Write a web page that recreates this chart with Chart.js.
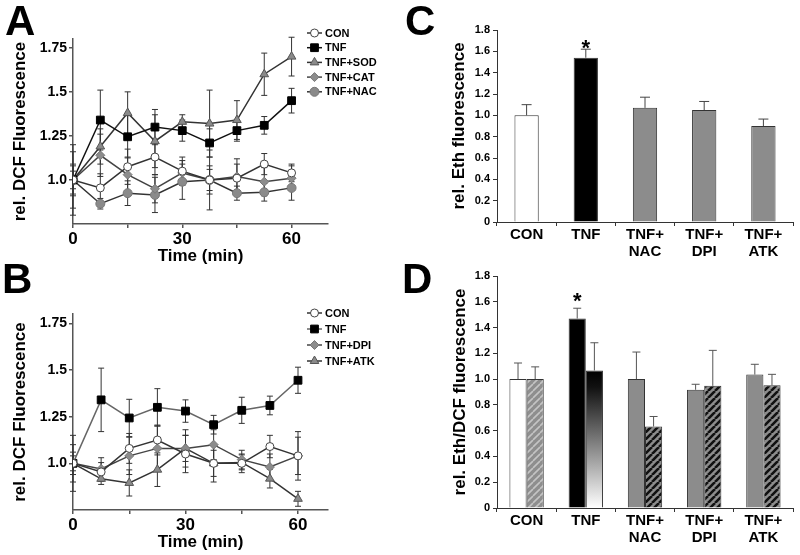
<!DOCTYPE html>
<html>
<head>
<meta charset="utf-8">
<script src="https://cdn.jsdelivr.net/npm/chart.js@4.4.1/dist/chart.umd.min.js"></script>
<style>
  html, body { margin: 0; padding: 0; background: #fff; }
  #fig { position: relative; width: 800px; height: 555px; overflow: hidden; font-family: Arial, 'Liberation Sans', sans-serif; }
  .panel { position: absolute; }
  .panel canvas { display: block; }
  .letter { position: absolute; font-weight: bold; font-size: 42px; line-height: 42px; color: #000; }
</style>
</head>
<body>
<div id="fig">
  <div class="panel" style="left:0;top:0"><canvas id="chartA" width="400" height="275"></canvas></div>
  <div class="panel" style="left:0;top:275px"><canvas id="chartB" width="400" height="280"></canvas></div>
  <div class="panel" style="left:400px;top:0"><canvas id="chartC" width="400" height="275"></canvas></div>
  <div class="panel" style="left:400px;top:265px"><canvas id="chartD" width="400" height="290"></canvas></div>
  <div class="letter" style="left:5px;top:0">A</div>
  <div class="letter" style="left:2px;top:258px">B</div>
  <div class="letter" style="left:405px;top:0">C</div>
  <div class="letter" style="left:402px;top:258px">D</div>
</div>
<script>
const F = "Arial, 'Liberation Sans', sans-serif";
Chart.defaults.font.family = F;
Chart.defaults.color = '#000';
Chart.defaults.animation = false;

// --- Datos: tiempos (min) ---
const times = [0, 7.5, 15, 22.5, 30, 37.5, 45, 52.5, 60];

// Panel A
const aCon = [1.0, 0.955, 1.075, 1.13, 1.05, 1.0, 1.01, 1.09, 1.04];
const aConErr = [0.05, 0.08, 0.1, 0.1, 0.08, 0.06, 0.08, 0.06, 0.05];
const aTnf = [1.0, 1.34, 1.245, 1.30, 1.28, 1.21, 1.28, 1.31, 1.45];
const aTnfErr = [0.09, 0.17, 0.12, 0.10, 0.06, 0.08, 0.06, 0.05, 0.07];
const aSod = [1.0, 1.19, 1.38, 1.22, 1.33, 1.32, 1.34, 1.60, 1.70];
const aSodErr = [0.16, 0.1, 0.12, 0.15, 0.04, 0.19, 0.11, 0.12, 0.11];
const aCat = [1.0, 1.14, 1.03, 0.95, 1.04, 1.0, 1.02, 0.99, 1.01];
const aCatErr = [0.08, 0.12, 0.1, 0.08, 0.07, 0.08, 0.1, 0.08, 0.07];
const aNac = [1.0, 0.865, 0.925, 0.915, 0.99, 1.0, 0.925, 0.93, 0.955];
const aNacErr = [0.2, 0.03, 0.07, 0.1, 0.1, 0.17, 0.04, 0.05, 0.07];

// Panel B
const bCon = [1.0, 0.954, 1.08, 1.125, 1.05, 1.0, 1.0, 1.09, 1.04];
const bConErr = [0.04, 0.05, 0.08, 0.08, 0.1, 0.07, 0.05, 0.06, 0.1];
const bTnf = [1.0, 1.34, 1.243, 1.30, 1.28, 1.207, 1.284, 1.31, 1.445];
const bTnfErr = [0.06, 0.17, 0.10, 0.10, 0.06, 0.05, 0.07, 0.05, 0.07];
const bDpi = [1.0, 0.97, 1.04, 1.08, 1.08, 1.10, 1.02, 0.98, 1.04];
const bDpiErr = [0.1, 0.06, 0.1, 0.12, 0.1, 0.08, 0.05, 0.07, 0.13];
const bAtk = [1.0, 0.917, 0.895, 0.966, 1.08, 1.0, 1.005, 0.918, 0.81];
const bAtkErr = [0.15, 0.03, 0.07, 0.09, 0.07, 0.1, 0.04, 0.05, 0.04];

// Paneles C y D
const groups = ['CON', 'TNF', ['TNF+', 'NAC'], ['TNF+', 'DPI'], ['TNF+', 'ATK']];
const cEth = [1.0, 1.54, 1.07, 1.05, 0.90];
const cEthErr = [0.10, 0.08, 0.10, 0.08, 0.065];
const cSig = ['', '*', '', '', ''];
const dEth = [1.0, 1.47, 1.0, 0.917, 1.035];
const dEthErr = [0.125, 0.08, 0.21, 0.043, 0.08];
const dDcf = [1.0, 1.067, 0.632, 0.948, 0.952];
const dDcfErr = [0.095, 0.215, 0.078, 0.275, 0.085];
const dSig = ['', '*', '', '', ''];

const barColors = ['#ffffff', '#000000', '#8c8c8c', '#8c8c8c', '#8c8c8c'];

function pts(vals) {
    return vals.map((v, i) => ({ x: times[i], y: v }));
}

// --- Plugins ---
function drawErrors(chart) {
    const ctx = chart.ctx;
    const ys = chart.scales.y;
    chart.data.datasets.forEach((ds, i) => {
        if (!ds.errors) return;
        const meta = chart.getDatasetMeta(i);
        ctx.save();
        ctx.strokeStyle = ds.errorColor || '#333';
        ctx.lineWidth = ds.errorWidth || 1;
        meta.data.forEach((el, j) => {
            const raw = ds.data[j];
            const v = typeof raw === 'object' ? raw.y : raw;
            const e = ds.errors[j];
            if (!e) return;
            const cw = ds.errorCap || 3;
            const top = ys.getPixelForValue(v + e);
            const bot = ds.errorUpOnly ? el.y : ys.getPixelForValue(v - e);
            ctx.beginPath();
            ctx.moveTo(el.x, top); ctx.lineTo(el.x, bot);
            ctx.moveTo(el.x - cw, top); ctx.lineTo(el.x + cw, top);
            if (!ds.errorUpOnly) { ctx.moveTo(el.x - cw, bot); ctx.lineTo(el.x + cw, bot); }
            ctx.stroke();
        });
        ctx.restore();
    });
}

const errorBars = {
    id: 'errorBars',
    beforeDatasetsDraw(chart) { if (chart.config.type === 'line') drawErrors(chart); },
    afterDatasetsDraw(chart) { if (chart.config.type === 'bar') drawErrors(chart); }
};

function drawMarker(ctx, style, x, y, r, fill, stroke) {
    ctx.save();
    ctx.fillStyle = fill;
    ctx.strokeStyle = stroke;
    ctx.lineWidth = 1;
    ctx.beginPath();
    if (style === 'circle') {
        ctx.arc(x, y, r, 0, Math.PI * 2);
    } else if (style === 'rect') {
        const s = r * Math.SQRT1_2;
        ctx.rect(x - s, y - s, 2 * s, 2 * s);
    } else if (style === 'rectRot') {
        ctx.moveTo(x, y - r); ctx.lineTo(x + r, y); ctx.lineTo(x, y + r); ctx.lineTo(x - r, y); ctx.closePath();
    } else if (style === 'triangle') {
        for (let k = 0; k < 3; k++) {
            const a = k * 2 * Math.PI / 3;
            const px = x + Math.sin(a) * r, py = y - Math.cos(a) * r;
            if (k === 0) ctx.moveTo(px, py); else ctx.lineTo(px, py);
        }
        ctx.closePath();
    }
    ctx.fill();
    ctx.stroke();
    ctx.restore();
}

const panelLegend = {
    id: 'panelLegend',
    afterDraw(chart, args, opts) {
        const ctx = chart.ctx;
        chart.data.datasets.forEach((ds, i) => {
            const y = opts.y + i * opts.dy;
            ctx.save();
            ctx.strokeStyle = ds.borderColor;
            ctx.lineWidth = 1.5;
            ctx.beginPath();
            ctx.moveTo(opts.x, y); ctx.lineTo(opts.x + 15, y);
            ctx.stroke();
            ctx.restore();
            drawMarker(ctx, ds.pointStyle, opts.x + 7.5, y, ds.pointRadius, ds.pointBackgroundColor, ds.pointBorderColor);
            ctx.save();
            ctx.fillStyle = '#000';
            ctx.font = 'bold 11px ' + F;
            ctx.textBaseline = 'middle';
            ctx.fillText(ds.label, opts.x + 18, y + 0.5);
            ctx.restore();
        });
    }
};

const stars = {
    id: 'stars',
    afterDatasetsDraw(chart, args, opts) {
        const ctx = chart.ctx;
        const ds = chart.data.datasets[0];
        const meta = chart.getDatasetMeta(0);
        opts.marks.forEach((m, j) => {
            if (!m) return;
            const el = meta.data[j];
            const cy = chart.scales.y.getPixelForValue(ds.data[j] + ds.errors[j]) - opts.gap;
            ctx.save();
            ctx.fillStyle = '#000';
            ctx.font = 'bold 22px ' + F;
            ctx.textAlign = 'center';
            ctx.textBaseline = 'alphabetic';
            ctx.fillText(m, el.x, cy + 0.58 * 22);
            ctx.restore();
        });
    }
};

// --- Configuracion de ejes ---
function lineScales(xMax, xH, yW) {
    return {
        x: {
            type: 'linear', min: 0, max: xMax,
            afterBuildTicks: s => { s.ticks = [0, 15, 30, 45, 60].map(v => ({ value: v })); },
            afterFit: s => { s.height = xH; },
            border: { color: '#555', width: 1.5 },
            grid: { drawOnChartArea: false, drawTicks: true, tickLength: 4, color: '#555', lineWidth: 1.5 },
            ticks: { callback: v => (v % 30 === 0 ? String(v) : ''), font: { size: 17, weight: 'bold' }, color: '#000', padding: 1, maxRotation: 0, autoSkip: false },
            title: { display: true, text: 'Time (min)', font: { size: 17, weight: 'bold' }, color: '#000', padding: { top: 0, bottom: 2 } }
        },
        y: {
            min: 0.75, max: 1.8,
            afterBuildTicks: s => { s.ticks = [1.0, 1.25, 1.5, 1.75].map(v => ({ value: v })); },
            afterFit: s => { s.width = yW; },
            border: { color: '#555', width: 1.5 },
            grid: { drawOnChartArea: false, drawTicks: true, tickLength: 4, color: '#555', lineWidth: 1.5 },
            ticks: { callback: v => (v === 1 ? '1.0' : String(v)), font: { size: 14, weight: 'bold' }, color: '#000', padding: 2 },
            title: { display: true, text: 'rel. DCF Fluorescence', font: { size: 17, weight: 'bold' }, color: '#000', padding: { top: 10, bottom: 0 } }
        }
    };
}

function barScales(xH, titleText, titlePad) {
    return {
        x: {
            afterFit: s => { s.height = xH; },
            border: { color: '#333', width: 1 },
            grid: { drawOnChartArea: false, drawTicks: true, tickLength: 4, color: '#333', offset: true },
            ticks: { font: { size: 15, weight: 'bold', lineHeight: 1.15 }, color: '#000', padding: 0, maxRotation: 0, autoSkip: false }
        },
        y: {
            min: 0, max: 1.8,
            afterBuildTicks: s => { s.ticks = [0, 0.2, 0.4, 0.6, 0.8, 1.0, 1.2, 1.4, 1.6, 1.8].map(v => ({ value: v })); },
            afterFit: s => { s.width = 97; },
            border: { color: '#333', width: 1 },
            grid: { drawOnChartArea: false, drawTicks: true, tickLength: 4, color: '#333' },
            ticks: { callback: v => (v === 0 ? '0' : v.toFixed(1)), font: { size: 11, weight: 'bold' }, color: '#000', padding: 3 },
            title: { display: true, text: titleText, font: { size: 17, weight: 'bold' }, color: '#000', padding: { top: titlePad, bottom: 0 } }
        }
    };
}

function lineSet(label, vals, errs, style) {
    return Object.assign({
        label: label,
        data: pts(vals),
        errors: errs,
        errorColor: '#333',
        errorCap: 3,
        borderWidth: 1.5,
        tension: 0,
        pointBorderWidth: 1
    }, style);
}

const styleCon = { borderColor: '#333', pointStyle: 'circle', pointRadius: 4, pointBackgroundColor: '#fff', pointBorderColor: '#444' };
const styleTnf = { borderColor: '#111', pointStyle: 'rect', pointRadius: 5.5, pointBackgroundColor: '#000', pointBorderColor: '#000' };
const styleTri = { borderColor: '#333', pointStyle: 'triangle', pointRadius: 5, pointBackgroundColor: '#8a8a8a', pointBorderColor: '#555' };
const styleDia = { borderColor: '#444', pointStyle: 'rectRot', pointRadius: 4.5, pointBackgroundColor: '#8c8c8c', pointBorderColor: '#777' };
const styleNac = { borderColor: '#333', pointStyle: 'circle', pointRadius: 4.5, pointBackgroundColor: '#8a8a8a', pointBorderColor: '#777' };

// --- Panel A ---
new Chart(document.getElementById('chartA'), {
    type: 'line',
    data: {
        datasets: [
            lineSet('CON', aCon, aConErr, styleCon),
            lineSet('TNF', aTnf, aTnfErr, styleTnf),
            lineSet('TNF+SOD', aSod, aSodErr, styleTri),
            lineSet('TNF+CAT', aCat, aCatErr, styleDia),
            lineSet('TNF+NAC', aNac, aNacErr, styleNac)
        ]
    },
    options: {
        responsive: false,
        layout: { padding: { left: 0, top: 39, right: 72, bottom: 6 } },
        scales: lineScales(70, 45, 73),
        plugins: { legend: { display: false }, tooltip: { enabled: false }, panelLegend: { x: 307, y: 33, dy: 14.7 } }
    },
    plugins: [errorBars, panelLegend]
});

// --- Panel B ---
new Chart(document.getElementById('chartB'), {
    type: 'line',
    data: {
        datasets: [
            lineSet('CON', bCon, bConErr, styleCon),
            lineSet('TNF', bTnf, bTnfErr, Object.assign({}, styleTnf, { borderColor: '#666' })),
            lineSet('TNF+DPI', bDpi, bDpiErr, styleDia),
            lineSet('TNF+ATK', bAtk, bAtkErr, styleTri)
        ]
    },
    options: {
        responsive: false,
        layout: { padding: { left: 0, top: 39, right: 72, bottom: 0 } },
        scales: lineScales(68, 45, 73),
        plugins: { legend: { display: false }, tooltip: { enabled: false }, panelLegend: { x: 307, y: 38, dy: 16 } }
    },
    plugins: [errorBars, panelLegend]
});

// --- Panel C ---
new Chart(document.getElementById('chartC'), {
    type: 'bar',
    data: {
        labels: groups,
        datasets: [{
            data: cEth,
            errors: cEthErr,
            errorUpOnly: true,
            errorColor: '#444',
            errorCap: 5,
            backgroundColor: barColors,
            borderColor: '#333',
            borderWidth: 1,
            categoryPercentage: 0.41,
            barPercentage: 1.0
        }]
    },
    options: {
        responsive: false,
        layout: { padding: { left: 0, top: 30, right: 7, bottom: 2 } },
        scales: barScales(51, 'rel. Eth fluorescence', 49),
        plugins: { legend: { display: false }, tooltip: { enabled: false }, stars: { marks: cSig, gap: 7 } }
    },
    plugins: [errorBars, stars]
});

// --- Panel D: patrones ---
function stripeCanvas(bg, fg, size, width) {
    const c = document.createElement('canvas');
    c.width = size; c.height = size;
    const g = c.getContext('2d');
    g.fillStyle = bg;
    g.fillRect(0, 0, size, size);
    g.strokeStyle = fg;
    g.lineWidth = width;
    g.beginPath();
    [-size, 0, size].forEach(o => { g.moveTo(o, size); g.lineTo(o + size, 0); });
    g.stroke();
    return c;
}
const conStripe = stripeCanvas('#8e8e8e', '#c4c4c4', 7, 1.6);
const darkStripe = stripeCanvas('#8c8c8c', '#111111', 7, 2.6);

new Chart(document.getElementById('chartD'), {
    type: 'bar',
    data: {
        labels: groups,
        datasets: [{
            data: dEth,
            errors: dEthErr,
            errorUpOnly: true,
            errorColor: '#555',
            errorCap: 4,
            backgroundColor: barColors,
            borderColor: '#333',
            borderWidth: 1,
            categoryPercentage: 0.58,
            barPercentage: 1.0
        }, {
            data: dDcf,
            errors: dDcfErr,
            errorUpOnly: true,
            errorColor: '#555',
            errorCap: 4,
            backgroundColor: function (context) {
                const chart = context.chart;
                const i = context.dataIndex;
                if (i === 1) {
                    const ys = chart.scales.y;
                    if (!ys) return '#666';
                    const top = ys.getPixelForValue(dDcf[1]);
                    const base = ys.getPixelForValue(0);
                    if (!isFinite(top) || !isFinite(base) || top === base) return '#666';
                    const grad = chart.ctx.createLinearGradient(0, top, 0, base);
                    grad.addColorStop(0, '#000');
                    grad.addColorStop(0.12, '#111');
                    grad.addColorStop(1, '#fff');
                    return grad;
                }
                return chart.ctx.createPattern(i === 0 ? conStripe : darkStripe, 'repeat');
            },
            borderColor: '#333',
            borderWidth: 1,
            categoryPercentage: 0.58,
            barPercentage: 1.0
        }]
    },
    options: {
        responsive: false,
        layout: { padding: { left: 0, top: 11, right: 7, bottom: 2 } },
        scales: barScales(45, 'rel. Eth/DCF fluorescence', 50),
        plugins: { legend: { display: false }, tooltip: { enabled: false }, stars: { marks: dSig, gap: 13 } }
    },
    plugins: [errorBars, stars]
});
</script>
</body>
</html>
